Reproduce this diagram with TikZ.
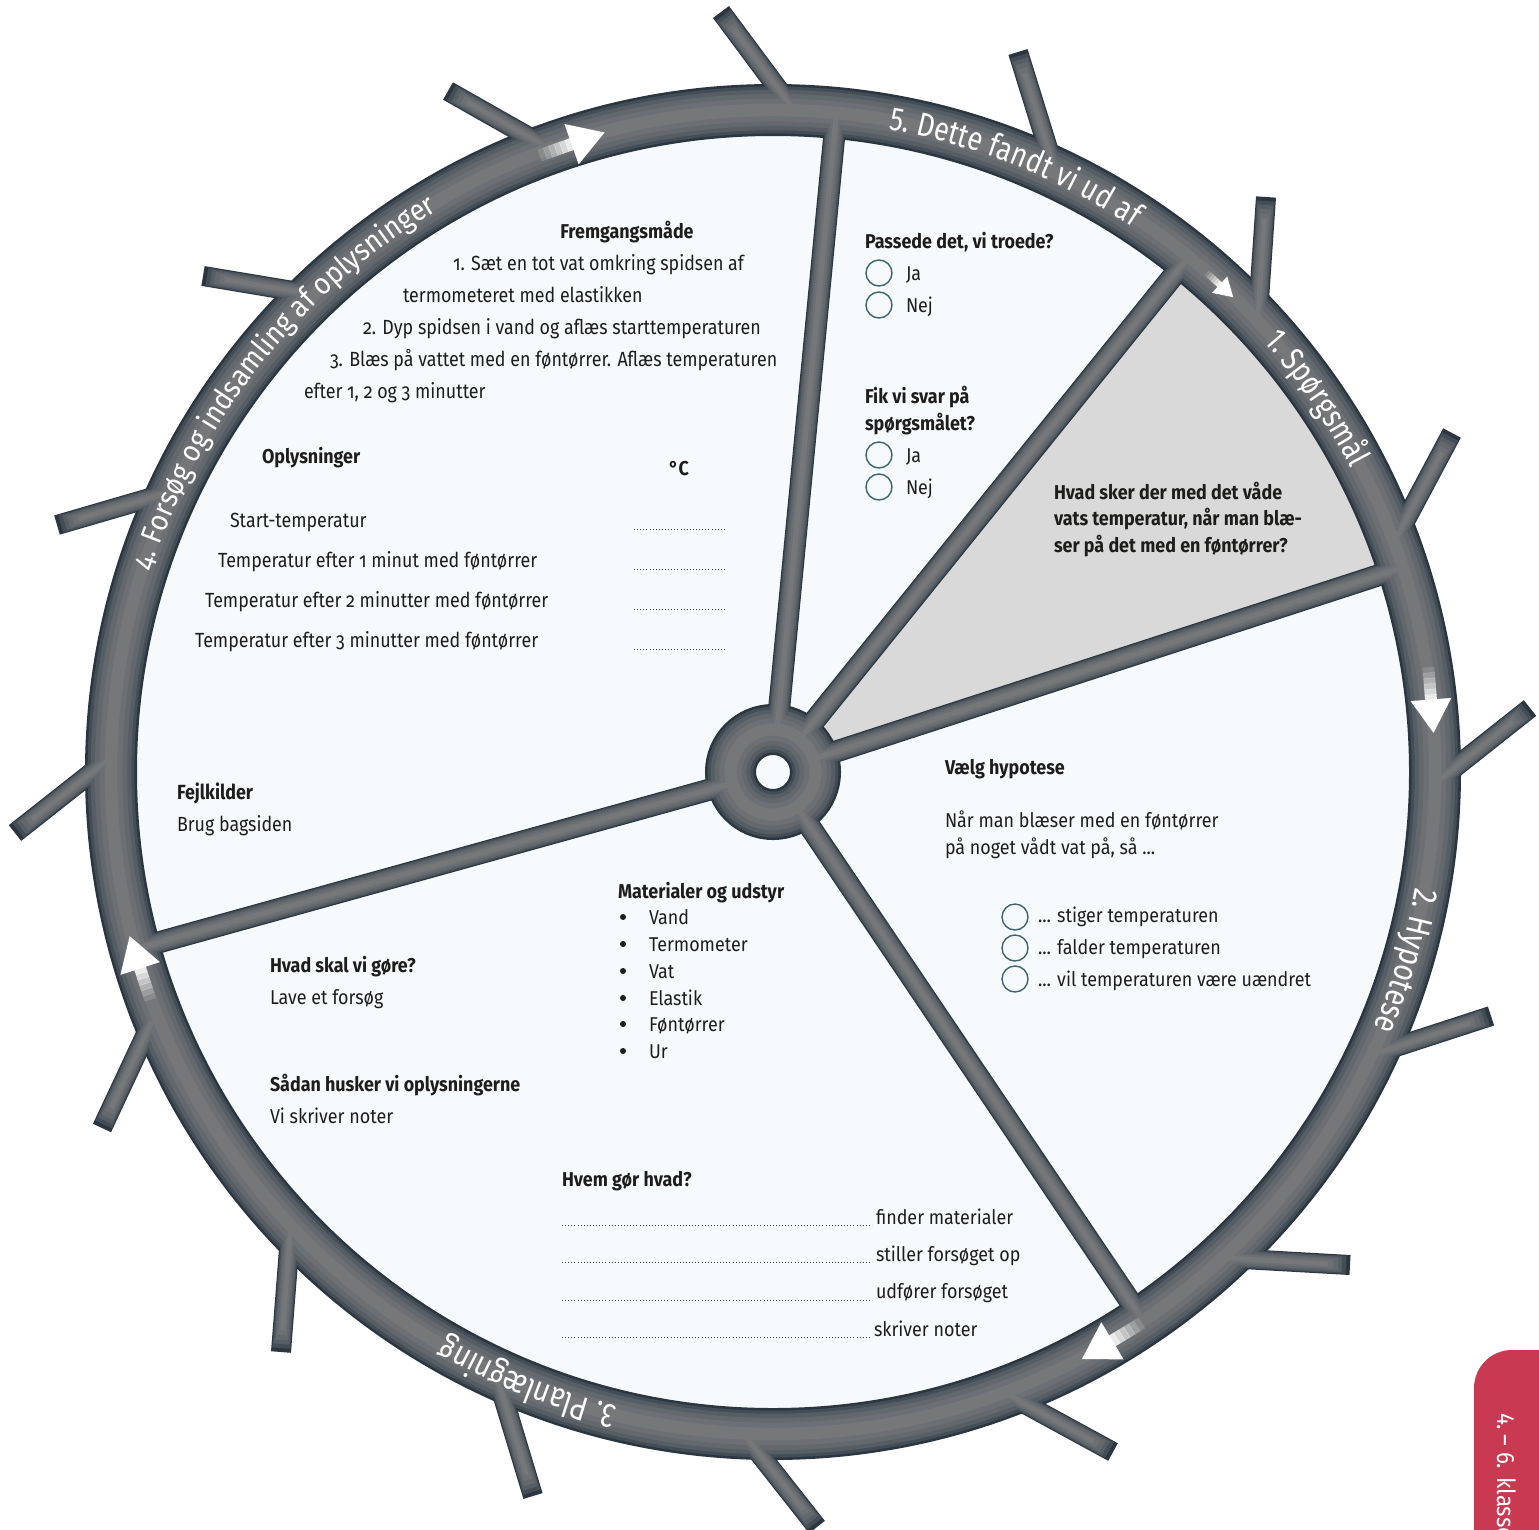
\documentclass[tikz,border=0pt]{standalone}
\usepackage{fontspec}
\setmainfont{Fira Sans}[FakeStretch=0.895]
\newfontfamily\humf{Fira Sans}[FakeStretch=0.87,Numbers=OldStyle]
\newfontfamily\rimf{Fira Sans}[FakeStretch=0.82]
\newfontfamily\rimhf{Fira Sans}[FakeStretch=0.9,Numbers=OldStyle]
\usetikzlibrary{calc,decorations.text}
\definecolor{txt}{HTML}{1D1D1B}
\definecolor{innerbg}{HTML}{F7FAFC}
\definecolor{sector}{HTML}{D9D9D9}
\definecolor{sk1}{HTML}{2B3641}
\definecolor{sk2}{HTML}{434D56}
\definecolor{sk3}{HTML}{565D64}
\definecolor{sk4}{HTML}{63686D}
\definecolor{sk5}{HTML}{6C7074}
\definecolor{sk6}{HTML}{757779}
\definecolor{radio}{HTML}{3D6275}
\definecolor{tabred}{HTML}{C93A52}
\tikzset{
  every node/.style={inner sep=0pt, outer sep=0pt, text=txt},
  tb/.style={anchor=base west, font=\fontsize{20}{24}\selectfont},
  tbb/.style={anchor=base west, font=\bfseries\fontsize{20}{24}\selectfont},
  th/.style={anchor=base west, font=\humf\fontsize{20.5}{24}\selectfont},
  thb/.style={anchor=base west, font=\humf\bfseries\fontsize{20.5}{24}\selectfont},
  radiobtn/.style={circle, draw=radio, line width=1.4pt, minimum size=26pt},
  dotline/.style={line width=0.9pt, dash pattern=on 0.9pt off 2.2pt, draw=txt!85},
  bulletdot/.style={circle, fill=txt, minimum size=6pt},
}
\newcommand{\skel}[3]{%
  \draw[#2, line width=#1*52pt] (c) circle[radius=662];
  \draw[#2, line width=#1*51pt] (c) circle[radius=42.5];
  \foreach \a in {84.5,51.1,18,-56,195.5}
    \draw[#2, line width=#1*22pt] ($(c)+(\a:42)$) -- ($(c)+(\a:662)$);
  \foreach \tx/\ty/\bx/\by in {721/12/776/86, 1018/52/1045/139, 1266/197/1260/285,
      1452/433/1411/510, 1530/708/1458/765, 1491/1016/1408/1043, 1350/1265/1261/1260,
      1113/1452/1036/1410, 817/1527/765/1461, 533/1496/507/1410, 281/1352/288/1262,
      102/1128/139/1049, 15/833/86/777, 57/525/136/502, 203/276/287/290, 448/91/522/133}
    \draw[#2, line width=#1*20pt] ($(\tx,-\ty)!#3!(\bx,-\by)$) -- ($(\bx,-\by)!-30pt!(\tx,-\ty)$);
}
\newcommand{\rimarrow}[4]{%
  \begin{scope}[shift={(#1,-#2)}, rotate=#3]
    \foreach \i in {0,...,5}{
      \pgfmathsetmacro{\op}{(\i+1)/7}
      \fill[white, opacity=\op] ({-0.5*#4+\i*#4/12}, {-0.09*#4}) rectangle ({-0.5*#4+(\i+1)*#4/12+0.4}, {0.09*#4});
    }
    \fill[white] (-0.5,{-0.31*#4}) -- ({0.5*#4},0) -- (-0.5,{0.31*#4}) -- cycle;
  \end{scope}}
\begin{document}
\begin{tikzpicture}[x=1pt,y=1pt]
\useasboundingbox (0,0) rectangle (1539,-1529);
\fill[white] (0,0) rectangle (1539,-1529);
\coordinate (c) at (773,-772);
% interior and highlighted sector
\fill[innerbg] (c) circle[radius=662];
\fill[sector] ($(c)+(51.1:50)$) -- ($(c)+(51.1:640)$) arc[start angle=51.1, end angle=18, radius=640] -- ($(c)+(18:50)$) -- cycle;
% wheel skeleton, shaded in layers
\skel{1}{sk1}{0pt}
\skel{0.9}{sk2}{4pt}
\skel{0.78}{sk3}{8pt}
\skel{0.62}{sk4}{12pt}
\skel{0.44}{sk5}{17pt}
\skel{0.24}{sk6}{22pt}
% rim labels
\path[decorate, decoration={text along path, text color=white, text align=center,
  text={|\rimf\fontsize{33}{33}\selectfont|5. Dette fandt vi ud af}}]
  ($(c)+(84:653)$) arc[start angle=84, end angle=52.4, radius=653];
\path[decorate, decoration={text along path, text color=white, text align=center,
  text={|\rimf\fontsize{33}{33}\selectfont|1. Spørgsmål}}]
  ($(c)+(50.5:653)$) arc[start angle=50.5, end angle=18.5, radius=653];
\path[decorate, decoration={text along path, text color=white, text align=center,
  text={|\rimf\fontsize{34}{34}\selectfont|2. Hypotese}}]
  ($(c)+(0:653)$) arc[start angle=0, end angle=-33.2, radius=653];
\path[decorate, decoration={text along path, text color=white, text align=center,
  text={|\rimf\fontsize{34}{34}\selectfont|3. Planlægning}}]
  ($(c)+(264:653)$) arc[start angle=264, end angle=232.2, radius=653];
\path[decorate, decoration={text along path, text color=white, text align=center,
  text={|\rimhf\fontsize{30}{30}\selectfont|4. Forsøg og indsamling af oplysninger}}]
  ($(c)+(170:654)$) arc[start angle=170, end angle=113, radius=654];
% arrows on the rim
\rimarrow{572}{144}{19.5}{69}
\rimarrow{1220}{285}{-42.7}{36}
\rimarrow{1431}{700}{-85.6}{66}
\rimarrow{1112}{1341}{211}{70}
\rimarrow{140}{968}{108}{67}
% top-left sector
\node[tbb, anchor=base] (fremg) at (627,-238) {Fremgangsmåde};
\node[th] (st1) at (453,-270) {1. Sæt en tot vat omkring spidsen af};
\node[th] (st1b) at (403,-302) {termometeret med elastikken};
\node[th] (st2) at (363,-334) {2. Dyp spidsen i vand og aflæs starttemperaturen};
\node[th] (st3) at (330,-366) {3. Blæs på vattet med en føntørrer. Aflæs temperaturen};
\node[th] (st3b) at (304,-398) {efter 1, 2 og 3 minutter};
\node[tbb] (opl) at (262,-463) {Oplysninger};
\node[tbb, anchor=base] (degc) at (679,-475) {°C};
\node[th] (t0) at (230,-527) {Start-temperatur};
\node[th] (t1) at (218,-567) {Temperatur efter 1 minut med føntørrer};
\node[th] (t2) at (205,-607) {Temperatur efter 2 minutter med føntørrer};
\node[th] (t3) at (195,-647) {Temperatur efter 3 minutter med føntørrer};
\foreach \y in {529,569,609,649} \draw[dotline] (634,-\y) -- (724,-\y);
\node[thb] (fejl) at (177,-799) {Fejlkilder};
\node[th] (brug) at (177,-831) {Brug bagsiden};
% top-right sector
\node[tbb] (pass) at (865,-248) {Passede det, vi troede?};
\node[radiobtn] (r1) at (879,-273) {};
\node[radiobtn] (r2) at (879,-305) {};
\node[tb] (ja1) at (906,-280) {Ja};
\node[tb] (nej1) at (906,-312) {Nej};
\node[tbb] (fik) at (865,-403) {Fik vi svar på};
\node[tbb] (fik2) at (865,-430) {spørgsmålet?};
\node[radiobtn] (r3) at (879,-455) {};
\node[radiobtn] (r4) at (879,-487) {};
\node[tb] (ja2) at (906,-462) {Ja};
\node[tb] (nej2) at (906,-494) {Nej};
% grey sector
\node[tbb] (q1) at (1054,-499) {Hvad sker der med det våde};
\node[tbb] (q2) at (1054,-525) {vats temperatur, når man blæ-};
\node[tbb] (q3) at (1054,-552) {ser på det med en føntørrer?};
% right sector
\node[tbb] (vh) at (945,-774) {Vælg hypotese};
\node[tb] (nm1) at (945,-827) {Når man blæser med en føntørrer};
\node[tb] (nm2) at (945,-854) {på noget vådt vat på, så ...};
\node[radiobtn] (r5) at (1015,-917) {};
\node[radiobtn] (r6) at (1015,-948) {};
\node[radiobtn] (r7) at (1015,-979) {};
\node[tb] (h1) at (1038,-922) {... stiger temperaturen};
\node[tb] (h2) at (1038,-954) {... falder temperaturen};
\node[tb] (h3) at (1038,-986) {... vil temperaturen være uændret};
% bottom sector
\node[tbb] (mat) at (618,-898) {Materialer og udstyr};
\foreach \y/\w [count=\k] in {924/Vand, 951/Termometer, 978/Vat, 1005/Elastik, 1031/Føntørrer, 1058/Ur}{
  \node[bulletdot] (b\k) at (623,{-\y+7}) {};
  \node[tb] (m\k) at (649,-\y) {\w};
}
\node[tbb] (hs) at (270,-972) {Hvad skal vi gøre?};
\node[tb] (lave) at (270,-1004) {Lave et forsøg};
\node[tbb] (sh) at (270,-1091) {Sådan husker vi oplysningerne};
\node[tb] (vi) at (270,-1123) {Vi skriver noter};
\node[tbb] (hg) at (562,-1186) {Hvem gør hvad?};
\foreach \y in {1225,1262,1300,1337} \draw[dotline] (562,-\y) -- (872,-\y);
\node[tb] (w1) at (876,-1224) {finder materialer};
\node[tb] (w2) at (876,-1261) {stiller forsøget op};
\node[tb] (w3) at (876,-1298) {udfører forsøget};
\node[tb] (w4) at (874,-1336) {skriver noter};
% grade tab
\fill[tabred, rounded corners=38pt] (1474,-1350) rectangle (1640,-1640);
\node[anchor=base west, rotate=-90, text=white, font=\fontsize{25}{25}\selectfont] (tab) at (1497,-1413) {4.\,– 6. klasse};
\end{tikzpicture}
\end{document}
